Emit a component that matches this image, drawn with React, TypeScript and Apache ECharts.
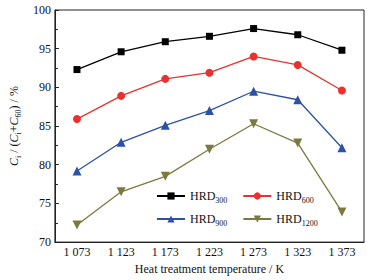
import React, { useEffect, useRef } from "react";
import * as echarts from "echarts";

const categories = ["1 073", "1 123", "1 173", "1 223", "1 273", "1 323", "1 373"];
const hrd300 = [92.3, 94.6, 95.9, 96.6, 97.6, 96.8, 94.8];
const hrd600 = [85.9, 88.9, 91.1, 91.9, 94.0, 92.9, 89.6];
const hrd900 = [79.2, 82.9, 85.1, 87.0, 89.5, 88.4, 82.2];
const hrd1200 = [72.2, 76.5, 78.5, 82.0, 85.3, 82.8, 73.9];
const seriesNames = ["HRD300", "HRD600", "HRD900", "HRD1200"];
const xAxisTitle = "Heat treatment temperature / K";

const FONT = "'Liberation Serif', 'Times New Roman', serif";

export default function App() {
  const ref = useRef<HTMLDivElement>(null);
  useEffect(() => {
    if (!ref.current) return;
    document.body.style.margin = "0";
    const chart = echarts.init(ref.current, undefined, { renderer: "svg" });
    const sub = {
      a: { fontSize: 12, fontFamily: FONT, color: "#111", lineHeight: 16 },
      b: { fontSize: 8, fontFamily: FONT, color: "#111", verticalAlign: "bottom", lineHeight: 10 },
    };
    const legendBase = {
      orient: "horizontal",
      left: 156,
      padding: 0,
      itemWidth: 28,
      itemHeight: 9,
      itemGap: 15,
      textStyle: { fontFamily: FONT, fontSize: 12, color: "#111", rich: sub },
      formatter: (name: string) => `{a|HRD}{b|${name.slice(3)}}`,
    };
    const mk = (name: string, data: number[], color: string, symbol: string, size: number) => ({
      name,
      type: "line",
      data,
      symbol,
      symbolSize: size,
      lineStyle: { color, width: 1.3 },
      itemStyle: { color },
    });
    chart.setOption({
      animation: false,
      backgroundColor: "#fff",
      grid: { left: 51, top: 10, right: 22, bottom: 37, show: true, borderColor: "#222", borderWidth: 1 },
      legend: [
        { ...legendBase, top: 190, data: [seriesNames[0], seriesNames[1]] },
        { ...legendBase, top: 213, data: [seriesNames[2], seriesNames[3]] },
      ],
      xAxis: {
        type: "category",
        data: categories,
        boundaryGap: true,
        name: xAxisTitle,
        nameLocation: "middle",
        nameGap: 18,
        nameTextStyle: { fontFamily: FONT, fontSize: 12, color: "#111" },
        axisLine: { lineStyle: { color: "#222", width: 1 } },
        axisTick: { inside: true, alignWithLabel: true, length: 4, lineStyle: { color: "#222" } },
        axisLabel: { fontFamily: FONT, fontSize: 12, color: "#111", margin: 4 },
        splitLine: { show: false },
      },
      yAxis: {
        type: "value",
        min: 70,
        max: 100,
        interval: 5,
        name: "{i|C}{s|i}{n| / (}{i|C}{s|i}{n|+}{i|C}{s|60}{n|) / %}",
        nameLocation: "middle",
        nameGap: 18,
        nameTextStyle: {
          fontFamily: FONT,
          fontSize: 12,
          color: "#111",
          rich: {
            i: { fontFamily: FONT, fontSize: 12, fontStyle: "italic", color: "#111", lineHeight: 16 },
            s: { fontFamily: FONT, fontSize: 8, color: "#111", verticalAlign: "bottom", lineHeight: 10 },
            n: { fontFamily: FONT, fontSize: 12, color: "#111", lineHeight: 16 },
          },
        },
        axisLine: { show: true, lineStyle: { color: "#222", width: 1 } },
        axisTick: { show: true, inside: true, length: 4, lineStyle: { color: "#222" } },
        minorTick: { show: true, splitNumber: 2, length: 3, lineStyle: { color: "#222" } },
        axisLabel: { fontFamily: FONT, fontSize: 12, color: "#111", margin: 4 },
        splitLine: { show: false },
      },
      series: [
        mk(seriesNames[0], hrd300, "#000000", "rect", 7),
        mk(seriesNames[1], hrd600, "#e8322f", "circle", 8),
        mk(seriesNames[2], hrd900, "#2b52a6", "triangle", 9),
        mk(seriesNames[3], hrd1200, "#7a7a3e", "path://M0,0L10,0L5,9Z", 9),
      ],
    });
    return () => chart.dispose();
  }, []);
  return <div ref={ref} style={{ width: 386, height: 280 }} />;
}
